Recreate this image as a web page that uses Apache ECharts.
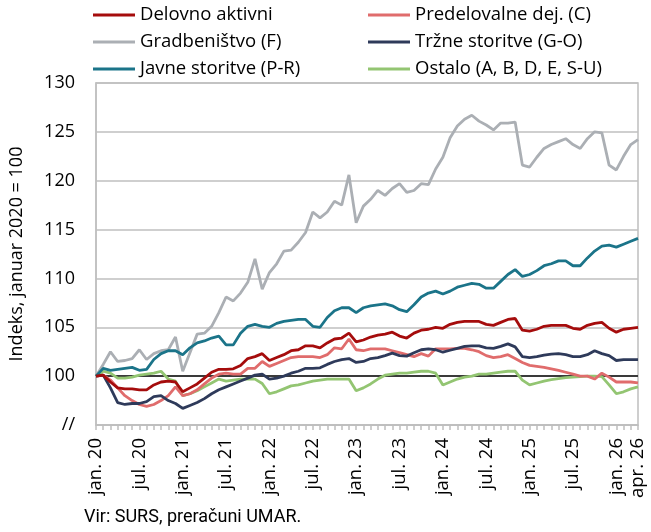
<!DOCTYPE html>
<html>
<head>
<meta charset="utf-8">
<script src="https://cdn.jsdelivr.net/npm/echarts@6/dist/echarts.min.js"></script>
<style>
  html, body { margin: 0; padding: 0; background: #fff; }
  #chart { width: 651px; height: 532px; }
</style>
</head>
<body>
<div id="chart"></div>
<script>
// months jan. 2020 .. apr. 2026
const monthNames = ["jan.", "feb.", "mar.", "apr.", "maj.", "jun.", "jul.", "avg.", "sep.", "okt.", "nov.", "dec."];
const months = [];
for (let y = 20; y <= 26; y++) {
  for (let m = 0; m < 12; m++) {
    if (y === 26 && m > 3) break;
    months.push(monthNames[m] + " " + y);
  }
}

const delovnoAktivni = [
  100.0, 100.1, 99.4, 98.8, 98.7, 98.7, 98.6, 98.6, 99.1, 99.4, 99.5, 99.4,
  98.4, 98.8, 99.2, 99.8, 100.4, 100.7, 100.7, 100.75, 101.1, 101.8, 102.0, 102.3,
  101.6, 101.9, 102.2, 102.6, 102.7, 103.1, 103.1, 102.9, 103.4, 103.8, 103.9, 104.4,
  103.5, 103.7, 104.0, 104.2, 104.3, 104.5, 104.1, 103.9, 104.4, 104.7, 104.8, 105.0,
  104.9, 105.3, 105.5, 105.6, 105.6, 105.6, 105.3, 105.2, 105.5, 105.8, 105.9, 104.7,
  104.6, 104.8, 105.1, 105.2, 105.2, 105.2, 104.9, 104.8, 105.2, 105.4, 105.5, 104.9,
  104.5, 104.8, 104.9, 105.0
];
const predelovalne = [
  100.0, 100.1, 99.6, 98.8, 98.0, 97.5, 97.1, 96.9, 97.1, 97.5, 98.0, 98.9,
  98.0, 98.2, 98.6, 99.2, 99.8, 100.2, 100.3, 100.2, 100.2, 100.8, 100.8, 101.5,
  101.0, 101.3, 101.6, 101.9, 102.0, 102.0, 102.0, 101.9, 102.2, 102.9, 102.8, 103.8,
  102.7, 102.6, 102.8, 102.8, 102.8, 102.6, 102.4, 102.2, 102.0, 102.3, 102.05, 102.8,
  102.8, 102.8, 102.85, 102.85, 102.7, 102.5, 102.1, 101.9, 102.0, 102.2, 101.8, 101.4,
  101.1, 101.0, 100.9, 100.75, 100.6, 100.4, 100.2, 100.0, 100.0, 99.7, 100.3, 99.9,
  99.4, 99.4, 99.4, 99.3
];
const gradbenistvo = [
  100.0, 101.2, 102.5, 101.5, 101.6, 101.8, 102.7, 101.7, 102.3, 102.6, 102.7, 104.0,
  100.5, 102.4, 104.3, 104.4, 105.1, 106.5, 108.1, 107.7, 108.5, 109.6, 112.0, 108.9,
  110.6, 111.5, 112.8, 112.9, 113.7, 114.7, 116.8, 116.2, 116.8, 117.9, 117.5, 120.6,
  115.7, 117.4, 118.1, 119.0, 118.5, 119.2, 119.7, 118.8, 119.0, 119.7, 119.6, 121.2,
  122.4, 124.4, 125.6, 126.3, 126.7, 126.1, 125.7, 125.2, 125.9, 125.9, 126.0, 121.6,
  121.4, 122.4, 123.3, 123.7, 124.0, 124.3, 123.7, 123.3, 124.3, 125.0, 124.9, 121.6,
  121.1, 122.5, 123.7, 124.2
];
const trzneStoritve = [
  100.0, 100.1, 98.8, 97.3, 97.1, 97.2, 97.2, 97.4, 97.9, 98.0, 97.5, 97.2,
  96.7, 97.0, 97.3, 97.7, 98.2, 98.6, 98.9, 99.2, 99.5, 99.8, 100.1, 100.2,
  99.7, 99.8, 100.0, 100.3, 100.5, 100.8, 100.8, 100.85, 101.2, 101.5, 101.7, 101.8,
  101.4, 101.5, 101.8, 101.9, 102.1, 102.35, 102.1, 102.05, 102.4, 102.7, 102.8, 102.7,
  102.45, 102.65, 102.85, 103.05, 103.1, 103.1, 102.9, 102.85, 103.05, 103.3, 103.0, 102.0,
  101.9, 102.0, 102.15, 102.25, 102.3, 102.2, 102.0, 102.0, 102.2, 102.6, 102.3, 102.1,
  101.6, 101.7, 101.7, 101.7
];
const javneStoritve = [
  100.0, 100.8, 100.6, 100.7, 100.8, 100.9, 100.6, 100.7, 101.7, 102.3, 102.6, 102.6,
  102.2, 102.9, 103.4, 103.6, 103.9, 104.1, 103.2, 103.2, 104.4, 105.1, 105.3, 105.1,
  105.0, 105.4, 105.6, 105.7, 105.8, 105.8, 105.1, 105.0, 106.0, 106.7, 107.0, 107.0,
  106.5, 107.0, 107.2, 107.3, 107.4, 107.2, 106.8, 106.6, 107.3, 108.1, 108.5, 108.7,
  108.4, 108.7, 109.1, 109.3, 109.5, 109.4, 109.0, 109.0, 109.7, 110.4, 110.9, 110.2,
  110.4, 110.8, 111.3, 111.5, 111.8, 111.8, 111.3, 111.3, 112.1, 112.8, 113.3, 113.4,
  113.2, 113.5, 113.8, 114.1
];
const ostalo = [
  100.0, 100.5, 100.3, 99.8, 99.8, 99.9, 100.1, 100.2, 100.3, 100.5, 99.7, 99.5,
  98.0, 98.2, 98.5, 98.9, 99.3, 99.7, 99.5, 99.6, 99.7, 99.7, 99.7, 99.25,
  98.2, 98.4, 98.7, 99.0, 99.1, 99.3, 99.5, 99.6, 99.7, 99.7, 99.7, 99.7,
  98.5, 98.8, 99.2, 99.7, 100.1, 100.2, 100.3, 100.3, 100.4, 100.5, 100.5, 100.3,
  99.1, 99.4, 99.7, 99.9, 100.0, 100.2, 100.2, 100.3, 100.4, 100.5, 100.5, 99.6,
  99.1, 99.3, 99.5, 99.65, 99.75, 99.85, 99.9, 99.95, 100.0, 100.0, 99.95, 99.1,
  98.2, 98.4, 98.7, 98.9
];

const FONT = "'Open Sans', 'Liberation Sans', sans-serif";

const chart = echarts.init(document.getElementById("chart"), null, { renderer: "canvas" });

const mkSeries = (name, data, color, z) => ({
  name: name,
  type: "line",
  data: data,
  showSymbol: false,
  symbol: "none",
  z: z,
  lineStyle: { color: color, width: 2.8 },
  itemStyle: { color: color }
});

const legendBase = {
  orient: "vertical",
  icon: "rect",
  itemWidth: 42,
  itemHeight: 3,
  itemGap: 7,
  textStyle: { fontFamily: FONT, fontSize: 18.5, lineHeight: 20, color: "#000" },
  selectedMode: false
};

chart.setOption({
  animation: false,
  backgroundColor: "#fff",
  legend: [
    Object.assign({}, legendBase, { left: 88, top: 0, data: ["Delovno aktivni", "Gradbeništvo (F)", "Javne storitve (P-R)"] }),
    Object.assign({}, legendBase, { left: 363, top: 0, data: ["Predelovalne dej. (C)", "Tržne storitve (G-O)", "Ostalo (A, B, D, E, S-U)"] })
  ],
  grid: {
    left: 90, right: 13, top: 83, bottom: 107,
    show: true, borderColor: "#BFBFBF", borderWidth: 1.5
  },
  xAxis: {
    type: "category",
    data: months,
    boundaryGap: false,
    axisLine: { lineStyle: { color: "#BFBFBF", width: 1.5 } },
    axisTick: { interval: 0, length: 5, lineStyle: { color: "#BFBFBF", width: 1.5 } },
    axisLabel: {
      interval: (idx) => idx % 6 === 0 || idx === months.length - 1,
      rotate: 90,
      margin: 13,
      fontFamily: FONT,
      fontSize: 18.5,
      color: "#000"
    },
    splitLine: { show: false }
  },
  yAxis: {
    type: "value",
    min: 95,
    max: 130,
    interval: 5,
    name: "Indeks, januar 2020 = 100",
    nameLocation: "middle",
    nameRotate: 90,
    nameGap: 70,
    nameTextStyle: { fontFamily: FONT, fontSize: 18, color: "#000" },
    axisLine: { show: true, lineStyle: { color: "#BFBFBF", width: 1.5 } },
    axisTick: { show: false },
    axisLabel: {
      margin: 21,
      fontFamily: FONT,
      fontSize: 18,
      color: "#000",
      formatter: (v) => (v === 95 ? "//" : String(v))
    },
    splitLine: { lineStyle: { color: "#BFBFBF", width: 1.5 } }
  },
  series: [
    Object.assign(mkSeries("Delovno aktivni", delovnoAktivni, "#A50C0C", 6), {
      markLine: {
        silent: true,
        symbol: "none",
        label: { show: false },
        lineStyle: { color: "#3A3A3A", width: 2, type: "solid" },
        data: [{ yAxis: 100 }],
        z: 1
      }
    }),
    mkSeries("Predelovalne dej. (C)", predelovalne, "#E06C6C", 3),
    mkSeries("Gradbeništvo (F)", gradbenistvo, "#ABAFB4", 2),
    mkSeries("Tržne storitve (G-O)", trzneStoritve, "#2E3A5A", 4),
    mkSeries("Javne storitve (P-R)", javneStoritve, "#1B7489", 5),
    mkSeries("Ostalo (A, B, D, E, S-U)", ostalo, "#93C572", 2)
  ],
  graphic: [
    {
      type: "text",
      left: 84,
      top: 508,
      style: {
        text: "Vir: SURS, preračuni UMAR.",
        font: "18px 'Roboto', 'Liberation Sans', sans-serif",
        fill: "#000"
      }
    }
  ]
});
</script>
</body>
</html>
